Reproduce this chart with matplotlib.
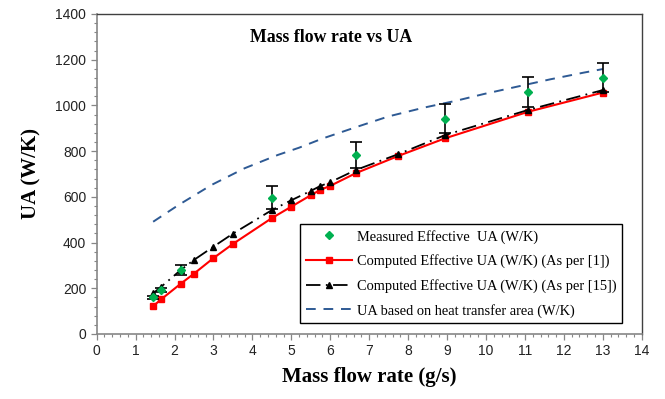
import numpy as np
import matplotlib.pyplot as plt
from matplotlib.ticker import MultipleLocator

# measured effective UA with error bars
meas_x = [1.45, 1.66, 2.16, 4.5, 6.65, 8.95, 11.08, 13.0]
meas_y = [160, 193, 281, 596, 782, 942, 1058, 1122]
meas_err = [8, 10, 22, 50, 58, 63, 66, 62]

# computed effective UA (as per [1])
ref1_x = [1.45, 1.66, 2.16, 2.5, 3.0, 3.5, 4.5, 5.0, 5.5, 5.74, 6.0, 6.65, 7.75, 8.95, 11.08, 13.0]
ref1_y = [122, 152, 220, 264, 332, 394, 507, 557, 607, 630, 648, 703, 779, 856, 972, 1056]

# computed effective UA (as per [15])
ref15_x = [1.45, 1.66, 2.16, 2.5, 3.0, 3.5, 4.5, 5.0, 5.5, 5.74, 6.0, 6.65, 7.75, 8.95, 11.08, 13.0]
ref15_y = [178, 207, 280, 324, 382, 439, 542, 585, 626, 647, 664, 717, 787, 870, 980, 1067]

# UA based on heat transfer area
area_x = [1.45, 2.1, 2.95, 3.8, 4.65, 5.2, 5.8, 6.7, 7.5, 8.4, 9.25, 9.95, 10.8, 11.65, 12.5, 13.0]
area_y = [491, 564, 652, 725, 783, 815, 855, 907, 952, 990, 1021, 1050, 1082, 1114, 1143, 1159]

serif = ['Liberation Serif', 'DejaVu Serif']
sans = ['Liberation Sans', 'DejaVu Sans']

fig = plt.figure(figsize=(6.65, 3.99), dpi=100)
ax = fig.add_axes([0.1454, 0.163, 0.8196, 0.802])

ax.plot(area_x, area_y, color='#2E5A94', ls=(0, (5, 4)), lw=1.4,
        label='UA based on heat transfer area (W/K)', zorder=2)
ax.plot(ref1_x, ref1_y, color='#FF0000', lw=1.5, marker='s', ms=4.5,
        label='Computed Effective UA (W/K) (As per [1])', zorder=3)
ax.plot(ref15_x, ref15_y, color='black', lw=1.3, ls=(0, (8, 3, 1, 3)), marker='^', ms=4.5,
        label='Computed Effective UA (W/K) (As per [15])', zorder=4)
ax.errorbar(meas_x, meas_y, yerr=meas_err, fmt='none', ecolor='black', elinewidth=1.2,
            capsize=4, capthick=1.2, zorder=5)
ax.plot(meas_x, meas_y, ls='none', marker='D', ms=4.5, color='#00B050',
        label='Measured Effective  UA (W/K)', zorder=6)

ax.set_xlim(0, 14)
ax.set_ylim(0, 1400)
ax.xaxis.set_major_locator(MultipleLocator(1))
ax.xaxis.set_minor_locator(MultipleLocator(0.2))
ax.yaxis.set_major_locator(MultipleLocator(200))
ax.yaxis.set_minor_locator(MultipleLocator(40))
ax.tick_params(axis='both', which='both', direction='out', color='#868686')
ax.tick_params(which='major', length=4, width=0.9, labelsize=10)
ax.tick_params(which='minor', length=2.5, width=0.8)
for lab in ax.get_xticklabels() + ax.get_yticklabels():
    lab.set_family(sans)
    lab.set_color('#222222')

for side in ['left', 'bottom']:
    ax.spines[side].set_color('#868686')
    ax.spines[side].set_linewidth(1.2)
for side in ['top', 'right']:
    ax.spines[side].set_color('#404040')
    ax.spines[side].set_linewidth(1.0)

ax.set_xlabel('Mass flow rate (g/s)', family=serif, fontsize=15, fontweight='bold', labelpad=6)
ax.set_ylabel('UA (W/K)', family=serif, fontsize=15, fontweight='bold', labelpad=10)
ax.text(0.43, 0.925, 'Mass flow rate vs UA', transform=ax.transAxes, ha='center', va='center',
        family=serif, fontsize=12.8, fontweight='bold')

handles, labels = ax.get_legend_handles_labels()
order = [3, 1, 2, 0]
leg = ax.legend([handles[i] for i in order], [labels[i] for i in order],
                loc='upper left', bbox_to_anchor=(0.373, 0.344), borderaxespad=0,
                prop={'family': serif, 'size': 10.4}, frameon=True, fancybox=False,
                edgecolor='black', framealpha=1, handlelength=3.2, labelspacing=0.74,
                borderpad=0.4, handletextpad=0.35)
leg.get_frame().set_linewidth(1.0)

fig.savefig('out.png', dpi=100)
